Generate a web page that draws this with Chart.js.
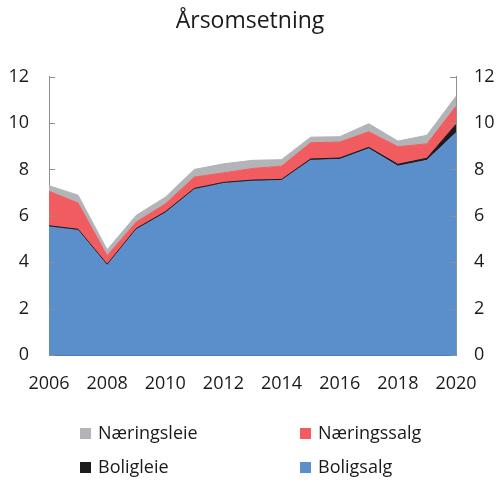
<!DOCTYPE html>
<html>
<head>
<meta charset="utf-8">
<script src="https://cdn.jsdelivr.net/npm/chart.js@4.4.1/dist/chart.umd.min.js"></script>
<style>
  html, body { margin: 0; padding: 0; background: #fff; }
  #wrap { position: relative; width: 500px; height: 494px; font-family: "Open Sans", sans-serif; }
  #legend { position: absolute; left: 0; top: 0; width: 500px; height: 494px; pointer-events: none; }
  .leg { position: absolute; font-size: 18px; color: #1a1a1a; line-height: 20px; white-space: nowrap; }
  .leg span { display: inline-block; width: 11px; height: 11px; margin-right: 7px; vertical-align: 0px; }
</style>
</head>
<body>
<div id="wrap">
  <canvas id="chart" width="500" height="494"></canvas>
  <div id="legend"></div>
</div>
<script>
const years = ["2006", "2007", "2008", "2009", "2010", "2011", "2012", "2013", "2014", "2015", "2016", "2017", "2018", "2019", "2020"];
const boligsalg   = [5.52, 5.37, 3.86, 5.40, 6.12, 7.13, 7.39, 7.49, 7.52, 8.39, 8.43, 8.89, 8.14, 8.39, 9.58];
const boligleie   = [0.05, 0.05, 0.05, 0.05, 0.05, 0.05, 0.05, 0.05, 0.05, 0.06, 0.06, 0.06, 0.08, 0.09, 0.36];
const naeringssalg = [1.49, 1.13, 0.37, 0.28, 0.34, 0.49, 0.41, 0.50, 0.57, 0.70, 0.69, 0.67, 0.76, 0.62, 0.78];
const naeringsleie = [0.24, 0.34, 0.26, 0.29, 0.29, 0.33, 0.39, 0.35, 0.28, 0.24, 0.23, 0.35, 0.24, 0.37, 0.43];
const yTicks = [0, 2, 4, 6, 8, 10, 12];

const series = [
  { label: "Boligsalg", data: boligsalg, color: "#5b8fcb" },
  { label: "Boligleie", data: boligleie, color: "#1c1c1c" },
  { label: "Næringssalg", data: naeringssalg, color: "#f15c61" },
  { label: "Næringsleie", data: naeringsleie, color: "#b3b4b7" },
];

// small inward tick marks on both y axes
const innerTicks = {
  id: "innerTicks",
  afterDraw(chart) {
    const ctx = chart.ctx;
    const area = chart.chartArea;
    const y = chart.scales.y;
    ctx.save();
    ctx.strokeStyle = "#8f8f8f";
    ctx.lineWidth = 1;
    yTicks.forEach((v) => {
      const py = Math.round(y.getPixelForValue(v)) + 0.5;
      ctx.beginPath();
      ctx.moveTo(area.left, py);
      ctx.lineTo(area.left + 6, py);
      ctx.moveTo(area.right, py);
      ctx.lineTo(area.right - 6, py);
      ctx.stroke();
    });
    ctx.restore();
  },
};

const font = { family: "'Open Sans', sans-serif", size: 18 };

new Chart(document.getElementById("chart"), {
  type: "line",
  data: {
    labels: years,
    datasets: series.map((s, i) => ({
      label: s.label,
      data: s.data,
      backgroundColor: s.color,
      borderColor: s.color,
      borderWidth: 1,
      pointRadius: 0,
      tension: 0,
      fill: i == 0 ? "origin" : "-1",
    })),
  },
  options: {
    responsive: false,
    animation: false,
    layout: { padding: { top: 0, bottom: 94, left: 0, right: 0 } },
    plugins: {
      legend: { display: false },
      tooltip: { enabled: false },
      title: {
        display: true,
        text: "Årsomsetning",
        color: "#1a1a1a",
        font: { family: "'Open Sans', sans-serif", size: 23, weight: "normal" },
        padding: { top: 8, bottom: 41 },
      },
    },
    scales: {
      x: {
        offset: false,
        grid: { display: false, drawTicks: false },
        border: { color: "#4d7bb3", width: 1 },
        ticks: {
          color: "#1a1a1a",
          font: font,
          padding: 18,
          maxRotation: 0,
          autoSkip: false,
          callback: function (val, idx) {
            return idx % 2 == 0 ? years[idx] : "";
          },
        },
        afterFit: (scale) => { scale.height = 45; },
      },
      y: {
        stacked: true,
        min: 0,
        max: 12,
        grid: { display: false, drawTicks: false },
        border: { color: "#8f8f8f", width: 1 },
        ticks: { stepSize: 2, color: "#1a1a1a", font: font, padding: 20 },
        afterFit: (scale) => { scale.width = 49; },
      },
      y2: {
        position: "right",
        min: 0,
        max: 12,
        grid: { display: false, drawTicks: false },
        border: { color: "#8f8f8f", width: 1 },
        ticks: { stepSize: 2, color: "#1a1a1a", font: font, padding: 18 },
        afterFit: (scale) => { scale.width = 44; },
      },
    },
  },
  plugins: [innerTicks],
});

// legend in two columns, top layer first
const legendItems = [series[3], series[2], series[1], series[0]];
const legendPos = [[80, 422], [300, 422], [80, 456], [300, 456]];
const legend = document.getElementById("legend");
legendItems.forEach((s, i) => {
  const d = document.createElement("div");
  d.className = "leg";
  d.style.left = legendPos[i][0] + "px";
  d.style.top = legendPos[i][1] + "px";
  d.innerHTML = `<span style="background:${s.color}"></span>${s.label}`;
  legend.appendChild(d);
});
</script>
</body>
</html>
